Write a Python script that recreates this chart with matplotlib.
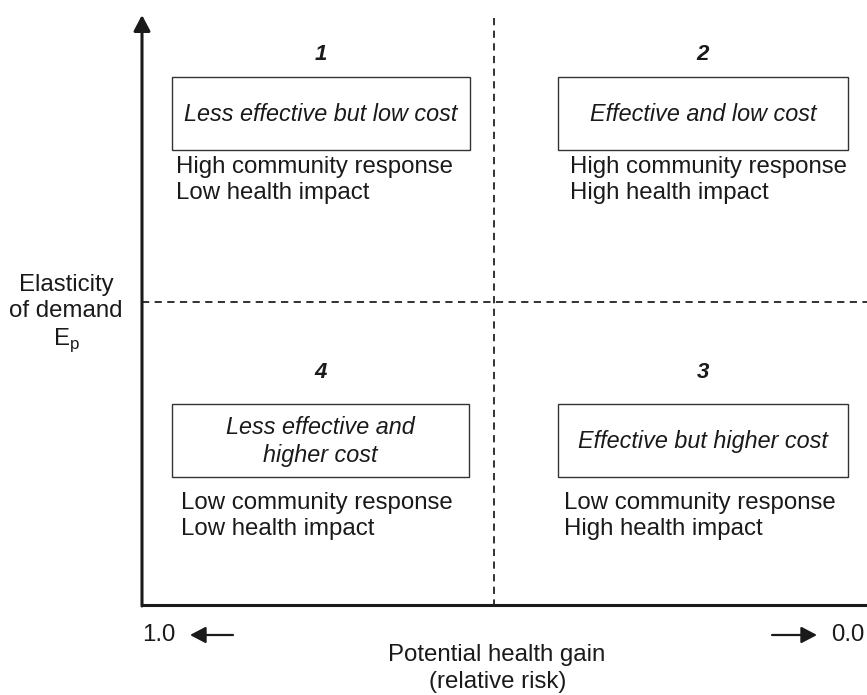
""" Quadrant diagram: community response vs potential health gain. """

import matplotlib.pyplot as plt
from matplotlib.patches import Rectangle

plt.rcParams['font.family'] = ['Liberation Sans', 'DejaVu Sans']

# Quadrant content (order: top-left, top-right, bottom-left, bottom-right)
quad_numbers = ["1", "2", "4", "3"]
box_texts = ["Less effective but low cost",
             "Effective and low cost",
             "Less effective and\nhigher cost",
             "Effective but higher cost"]
desc_texts = ["High community response\nLow health impact",
              "High community response\nHigh health impact",
              "Low community response\nLow health impact",
              "Low community response\nHigh health impact"]
y_label = "Elasticity\nof demand\nE$_\\mathregular{p}$"
x_label = ["Potential health gain", "(relative risk)"]
x_left_tick = "1.0"
x_right_tick = "0.0"

W, H = 867, 695
fig = plt.figure(figsize=(W / 100, H / 100), dpi=100)
ax = fig.add_axes([0, 0, 1, 1])
ax.set_xlim(0, W)
ax.set_ylim(H, 0)
ax.axis("off")

ox, oy = 142, 605      # origin of the axes
mid_x, mid_y = 494, 302
right_end, top_end = 867, 15
ink = "#1a1a1a"
fs = 17.3

# Axes with arrow on y
ax.plot([ox, right_end], [oy, oy], color=ink, lw=2.2, solid_capstyle="butt")
ax.annotate("", xy=(ox, top_end), xytext=(ox, oy + 1),
            arrowprops=dict(arrowstyle="-|>,head_length=0.95,head_width=0.5",
                            color=ink, lw=2.2, shrinkA=0, shrinkB=0))

# Dashed dividers
ax.plot([mid_x, mid_x], [top_end + 3, oy], color="#222222", lw=1.3, ls=(0, (4, 3)))
ax.plot([ox, right_end], [mid_y, mid_y], color="#222222", lw=1.3, ls=(0, (4, 3)))

# Box geometry per quadrant
centers_x = [321, 703, 321, 703]
num_y = [55, 55, 372, 372]
boxes = [(172, 77, 298, 73), (558, 77, 290, 73),
         (172, 404, 297, 73), (558, 404, 290, 73)]
desc_pos = [(176, 180), (570, 180), (181, 516), (564, 516)]

for i in range(4):
    ax.text(centers_x[i], num_y[i], quad_numbers[i], ha="center", va="center",
            fontsize=16, fontweight="bold", fontstyle="italic", color=ink)
    bx, by, bw, bh = boxes[i]
    ax.add_patch(Rectangle((bx, by), bw, bh, fill=False, ec="#333333", lw=1.0))
    ax.text(bx + bw / 2, by + bh / 2 + 1, box_texts[i], ha="center", va="center",
            fontsize=16.8, fontstyle="italic", color=ink, linespacing=1.25)
    ax.text(desc_pos[i][0], desc_pos[i][1], desc_texts[i], ha="left", va="center",
            fontsize=fs, color=ink, linespacing=1.2)

# Axis labels
ax.text(66, 314, y_label, ha="center", va="center", fontsize=fs,
        color=ink, linespacing=1.22)
ax.text(497, 655, x_label[0], ha="center", va="center", fontsize=fs, color=ink)
ax.text(498, 682, x_label[1], ha="center", va="center", fontsize=fs, color=ink)

# Direction hints under x axis
ax.text(142, 635, x_left_tick, ha="left", va="center", fontsize=fs, color=ink)
ax.annotate("", xy=(190, 635), xytext=(233, 635),
            arrowprops=dict(arrowstyle="-|>,head_length=0.95,head_width=0.5",
                            color=ink, lw=1.6, shrinkA=0, shrinkB=0))
ax.annotate("", xy=(817, 635), xytext=(772, 635),
            arrowprops=dict(arrowstyle="-|>,head_length=0.95,head_width=0.5",
                            color=ink, lw=1.6, shrinkA=0, shrinkB=0))
ax.text(865, 635, x_right_tick, ha="right", va="center", fontsize=fs, color=ink)

fig.savefig("out.png", dpi=100)
